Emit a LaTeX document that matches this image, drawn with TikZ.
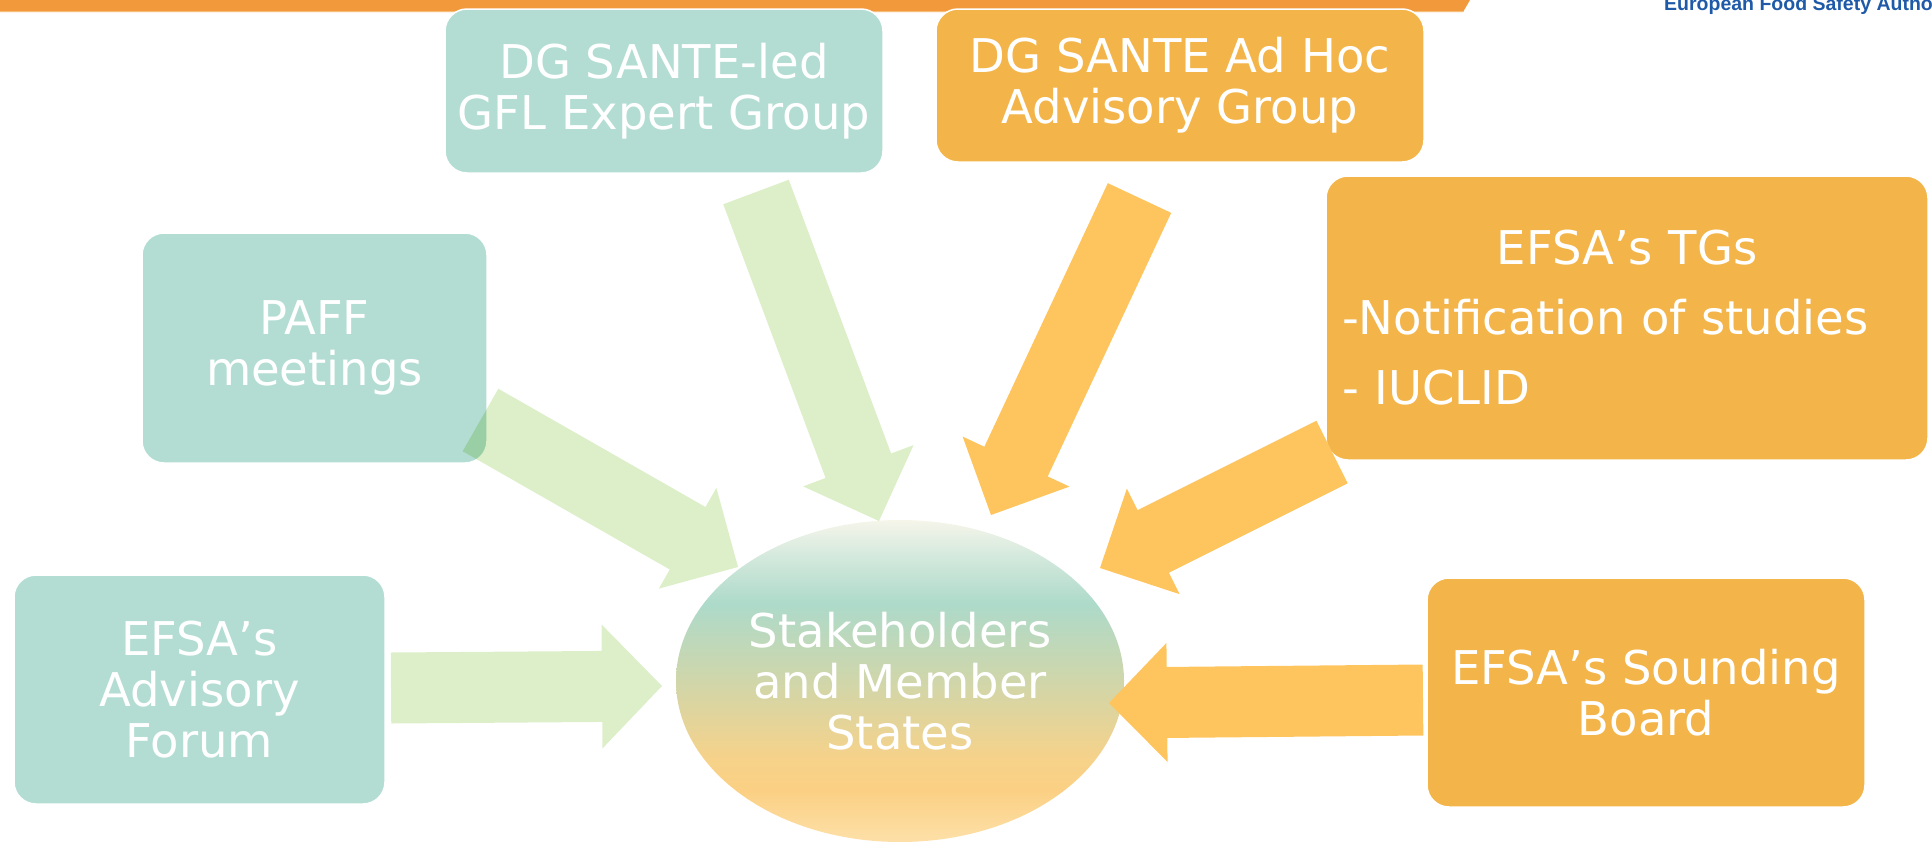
\documentclass[tikz,border=0pt]{standalone}
\usepackage{fontspec}
\setmainfont{DejaVu Sans}
\newfontfamily\efsafont{Liberation Sans}
\usepackage{xcolor}
\usepackage{tikz}
\usetikzlibrary{calc,shapes.geometric}
\definecolor{boxteal}{HTML}{B3DDD3}
\definecolor{boxorange}{HTML}{F3B54A}
\definecolor{arrowgreen}{HTML}{DCEFC9}
\definecolor{arroworange}{HTML}{FEC55F}
\definecolor{barorange}{HTML}{F29A3B}
\definecolor{barlight}{HTML}{F7BC78}
\definecolor{efsablue}{HTML}{1F5AA8}
\definecolor{shadetop}{HTML}{F6F5EA}
\definecolor{shadepale}{HTML}{D2E8DC}
\definecolor{shadeteal}{HTML}{ADDACA}
\definecolor{shadeolive}{HTML}{D0D6AA}
\definecolor{shadeamber}{HTML}{F6D28A}
\definecolor{shadeorange}{HTML}{FBD084}
\definecolor{shadebottom}{HTML}{FDE0A8}
\pgfdeclareverticalshading{stakeshade}{100bp}{color(0bp)=(shadebottom); color(25bp)=(shadebottom); color(33bp)=(shadeorange); color(38bp)=(shadeamber); color(50bp)=(shadeolive); color(62bp)=(shadeteal); color(69bp)=(shadepale); color(75bp)=(shadetop); color(100bp)=(shadetop)}
\newcommand{\boxfont}{\fontsize{46.5pt}{51pt}\selectfont}
\newcommand{\blockarrow}[6]{%
\coordinate (ba-base) at ($(#3)!#6!(#2)$);
\fill[#1] ($(#2)!#4!90:(#3)$) -- ($(ba-base)!#4!-90:(#2)$) -- ($(ba-base)!#5!-90:(#2)$) -- (#3) -- ($(ba-base)!#5!90:(#2)$) -- ($(ba-base)!#4!90:(#2)$) -- ($(#2)!#4!-90:(#3)$) -- cycle;}
\begin{document}
\begin{tikzpicture}[line cap=round,line join=round,x=1pt,y=-1pt,
  sabox/.style={rounded corners=22pt,draw=white,line width=1.5pt,text=white,align=center,inner sep=0pt,font=\boxfont},
  tealbox/.style={sabox,fill=boxteal},
  orangebox/.style={sabox,fill=boxorange},
  greenarrow/.style={fill=arrowgreen,blend mode=multiply},
  orangearrow/.style={fill=arroworange}]
\useasboundingbox (0,0) rectangle (1932,841);
\clip (0,0) rectangle (1932,841);
\fill[barorange] (0,0) -- (1470,0) -- (1463,12) -- (0,12) -- cycle;
\draw[barlight,line width=1.2pt] (0,11.4) -- (1463,11.4);
\node[anchor=base west,inner sep=0pt,text=efsablue,font=\efsafont\bfseries\fontsize{19.5pt}{20pt}\selectfont] (efsa) at (1664,10) {European Food Safety Authority};
\node[tealbox,minimum width=438pt,minimum height=164pt] (gfl) at (664,91) {DG SANTE-led\\GFL Expert Group};
\node[orangebox,minimum width=488pt,minimum height=153pt] (adhoc) at (1180,85.5) {DG SANTE Ad Hoc\\Advisory Group};
\node[tealbox,minimum width=345pt,minimum height=230pt] (paff) at (314.5,348) {PAFF\\meetings};
\node[orangebox,minimum width=602pt,minimum height=284pt,align=left,text width=570pt,font=\fontsize{46.5pt}{70pt}\selectfont] (tgs) at (1627,318) {\makebox[570pt]{EFSA’s TGs}\\-Notification of studies\\- IUCLID};
\node[tealbox,minimum width=371pt,minimum height=229pt] (forum) at (199.5,689.5) {EFSA’s\\Advisory\\Forum};
\node[orangebox,minimum width=438pt,minimum height=229pt] (sounding) at (1646,692.5) {EFSA’s Sounding\\Board};
\node[ellipse,minimum width=448pt,minimum height=322pt,inner sep=0pt,shading=stakeshade,text=white,font=\boxfont,align=center] (stake) at (900,681) {Stakeholders\\and Member\\States};
\coordinate (forum-tail) at (391,688);
\coordinate (forum-tip) at (662,686);
\coordinate (paff-tail) at (480.5,420);
\coordinate (paff-tip) at (738,567);
\coordinate (gfl-tail) at (756,192);
\coordinate (gfl-tip) at (879,521);
\coordinate (adhoc-tail) at (1139.5,198);
\coordinate (adhoc-tip) at (991,515);
\coordinate (tgs-tail) at (1332,452);
\coordinate (tgs-tip) at (1100,568);
\coordinate (sounding-tail) at (1423,700);
\coordinate (sounding-tip) at (1109,703);
\blockarrow{greenarrow}{forum-tail}{forum-tip}{35.5pt}{62pt}{60pt}
\blockarrow{greenarrow}{paff-tail}{paff-tip}{36pt}{58pt}{58pt}
\blockarrow{greenarrow}{gfl-tail}{gfl-tip}{35pt}{59pt}{59pt}
\blockarrow{orangearrow}{adhoc-tail}{adhoc-tip}{35pt}{59pt}{59pt}
\blockarrow{orangearrow}{tgs-tail}{tgs-tip}{35pt}{59pt}{59.5pt}
\blockarrow{orangearrow}{sounding-tail}{sounding-tip}{35.5pt}{59.5pt}{58pt}
\end{tikzpicture}
\end{document}
